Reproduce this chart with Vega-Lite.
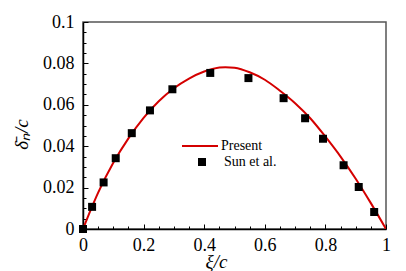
{
  "$schema": "https://vega.github.io/schema/vega-lite/v6.json",
  "width": 303,
  "height": 207,
  "autosize": {"type": "none"},
  "padding": {"left": 83, "top": 22, "right": 20, "bottom": 42},
  "background": "white",
  "config": {"view": {"stroke": "#555555", "strokeWidth": 1.5}, "font": "Liberation Serif"},
  "layer": [
    {
      "data": {"values": [
        {"xi": 0, "d": 0, "series": "Present"},
        {"xi": 0.02, "d": 0.0073, "series": "Present"},
        {"xi": 0.05, "d": 0.0176, "series": "Present"},
        {"xi": 0.1, "d": 0.032, "series": "Present"},
        {"xi": 0.15, "d": 0.0438, "series": "Present"},
        {"xi": 0.2, "d": 0.0537, "series": "Present"},
        {"xi": 0.25, "d": 0.0617, "series": "Present"},
        {"xi": 0.3, "d": 0.068, "series": "Present"},
        {"xi": 0.35, "d": 0.0727, "series": "Present"},
        {"xi": 0.4, "d": 0.0761, "series": "Present"},
        {"xi": 0.45, "d": 0.078, "series": "Present"},
        {"xi": 0.47, "d": 0.0782, "series": "Present"},
        {"xi": 0.5, "d": 0.0779, "series": "Present"},
        {"xi": 0.55, "d": 0.0757, "series": "Present"},
        {"xi": 0.6, "d": 0.0721, "series": "Present"},
        {"xi": 0.65, "d": 0.0668, "series": "Present"},
        {"xi": 0.7, "d": 0.0608, "series": "Present"},
        {"xi": 0.75, "d": 0.0535, "series": "Present"},
        {"xi": 0.8, "d": 0.0446, "series": "Present"},
        {"xi": 0.85, "d": 0.035, "series": "Present"},
        {"xi": 0.9, "d": 0.0243, "series": "Present"},
        {"xi": 0.95, "d": 0.0125, "series": "Present"},
        {"xi": 1, "d": 0, "series": "Present"}
      ]},
      "mark": {"type": "line", "strokeWidth": 2, "interpolate": "monotone", "clip": true},
      "encoding": {
        "x": {
          "field": "xi", "type": "quantitative",
          "scale": {"domain": [0, 1], "nice": false, "zero": false},
          "axis": {
            "orient": "bottom", "values": [0, 0.2, 0.4, 0.6, 0.8, 1], "format": "~g",
            "tickSize": -5, "tickColor": "black", "labelPadding": 12, "grid": false,
            "domainColor": "black", "domainWidth": 1.5, "labelFlush": false, "labelOverlap": false,
            "labelFont": "Liberation Serif", "labelFontSize": 18, "labelColor": "black",
            "title": "ξ/c", "titleFont": "Liberation Serif", "titleFontStyle": "italic", "titleFontWeight": "normal",
            "titleFontSize": 19, "titleColor": "black", "titleX": 133, "titleY": 38, "titleBaseline": "alphabetic", "titleAlign": "center"
          }
        },
        "y": {
          "field": "d", "type": "quantitative",
          "scale": {"domain": [0, 0.1], "nice": false, "zero": false},
          "axis": {
            "orient": "left", "values": [0, 0.02, 0.04, 0.06, 0.08, 0.1], "format": "~g",
            "tickSize": -5, "tickColor": "black", "labelPadding": 14, "grid": false,
            "domainColor": "black", "domainWidth": 1.5, "labelFlush": false, "labelOverlap": false,
            "labelFont": "Liberation Serif", "labelFontSize": 18, "labelColor": "black",
            "title": "δ̄ₙ/c", "titleFont": "Liberation Serif", "titleFontStyle": "italic", "titleFontWeight": "normal",
            "titleFontSize": 19, "titleColor": "black", "titleX": -62, "titleY": 112, "titleBaseline": "middle", "titleAlign": "center", "titleAngle": 270
          }
        },
        "stroke": {
          "field": "series", "type": "nominal",
          "scale": {"range": ["#d40000"]},
          "legend": {
            "orient": "none", "legendX": 98, "legendY": 105, "title": null, "padding": 0,
            "symbolSize": 1296, "symbolStrokeWidth": 2, "symbolType": "stroke",
            "labelFont": "Liberation Serif", "labelFontSize": 14, "labelColor": "black", "labelOffset": 2
          }
        }
      }
    },
    {
      "data": {"values": [
        {"xi": 0, "d": 0, "series": "Sun et al."},
        {"xi": 0.03, "d": 0.0107, "series": "Sun et al."},
        {"xi": 0.068, "d": 0.0225, "series": "Sun et al."},
        {"xi": 0.108, "d": 0.0342, "series": "Sun et al."},
        {"xi": 0.161, "d": 0.0463, "series": "Sun et al."},
        {"xi": 0.221, "d": 0.0573, "series": "Sun et al."},
        {"xi": 0.295, "d": 0.0675, "series": "Sun et al."},
        {"xi": 0.42, "d": 0.0754, "series": "Sun et al."},
        {"xi": 0.546, "d": 0.0729, "series": "Sun et al."},
        {"xi": 0.662, "d": 0.0632, "series": "Sun et al."},
        {"xi": 0.733, "d": 0.0535, "series": "Sun et al."},
        {"xi": 0.792, "d": 0.0436, "series": "Sun et al."},
        {"xi": 0.86, "d": 0.0308, "series": "Sun et al."},
        {"xi": 0.91, "d": 0.0203, "series": "Sun et al."},
        {"xi": 0.961, "d": 0.0082, "series": "Sun et al."}
      ]},
      "mark": {"type": "point", "shape": "square", "filled": true, "size": 64, "opacity": 1},
      "encoding": {
        "x": {
          "field": "xi", "type": "quantitative",
          "axis": {
            "orient": "bottom", "values": [0.05, 0.1, 0.15, 0.25, 0.3, 0.35, 0.45, 0.5, 0.55, 0.65, 0.7, 0.75, 0.85, 0.9, 0.95],
            "tickSize": -3, "tickColor": "black", "labels": false, "domain": false, "grid": false, "title": null
          }
        },
        "y": {
          "field": "d", "type": "quantitative",
          "axis": {
            "orient": "left", "values": [0.005, 0.01, 0.015, 0.025, 0.03, 0.035, 0.045, 0.05, 0.055, 0.065, 0.07, 0.075, 0.085, 0.09, 0.095],
            "tickSize": -3, "tickColor": "black", "labels": false, "domain": false, "grid": false, "title": null
          }
        },
        "fill": {
          "field": "series", "type": "nominal",
          "scale": {"range": ["black"]},
          "legend": {
            "orient": "none", "legendX": 112, "legendY": 133, "title": null, "padding": 0,
            "symbolSize": 64, "symbolType": "square",
            "labelFont": "Liberation Serif", "labelFontSize": 14, "labelColor": "black", "labelOffset": 15
          }
        }
      }
    }
  ],
  "resolve": {"axis": {"x": "independent", "y": "independent"}}
}
